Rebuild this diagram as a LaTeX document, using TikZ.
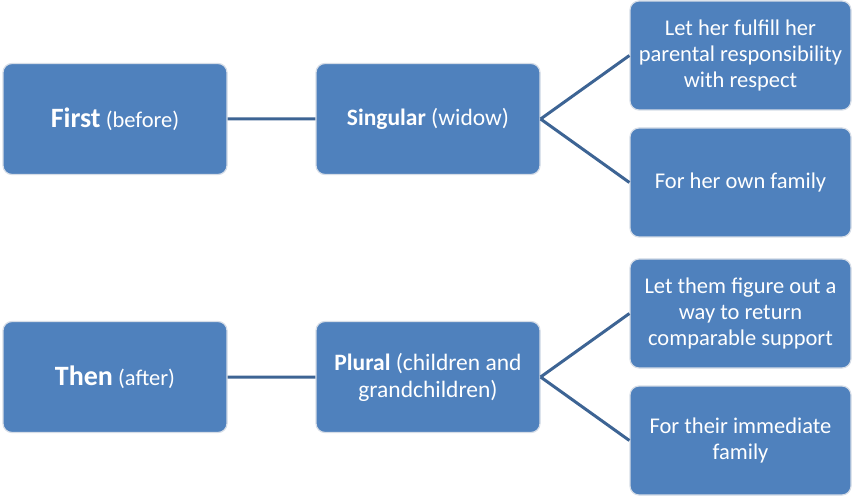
\documentclass[tikz,border=0pt]{standalone}
\usepackage{fontspec}
\setmainfont{Carlito}
\usepackage{tikz}
\usetikzlibrary{trees}
\usepackage{xcolor}
\definecolor{azul}{HTML}{4F81BD}
\definecolor{azulescuro}{HTML}{3D6494}
\definecolor{borda}{HTML}{D6DDE7}
\newcommand{\grande}[1]{{\fontsize{28}{30}\selectfont\bfseries #1}}

\begin{document}
\begin{tikzpicture}[x=1pt, y=1pt,
    bloco/.style={rectangle, rounded corners=9pt, fill=azul, draw=borda,
      line width=1.2pt, text=white, align=center, inner sep=2pt,
      font=\fontsize{22.5}{26}\selectfont,
      minimum width=224pt, minimum height=111pt},
    meio/.style={bloco, font=\fontsize{23.5}{27}\selectfont},
    folha/.style={bloco, minimum width=221pt, minimum height=109pt},
    grow'=right,
    level 1/.style={level distance=313pt},
    level 2/.style={level distance=312.5pt, sibling distance=127pt},
    edge from parent/.style={draw=azulescuro, line width=3pt},
    edge from parent path={(\tikzparentnode.east) -- (\tikzchildnode.west)}]
        \useasboundingbox (0,0) rectangle (853,498);

        % Primeira arvore
        \node[bloco] (first) at (115,379) {\grande{First} (before)}
          child {
            node[meio] (singular) {\textbf{Singular} (widow)}
            child {node[folha] (respeito) {Let her fulfill her\\parental responsibility\\with respect}}
            child {node[folha] (familia) {For her own family}}
          };

        % Segunda arvore
        \node[bloco] (then) at (115,121) {\grande{Then} (after)}
          child {
            node[meio] (plural) {\textbf{Plural} (children and\\grandchildren)}
            child {node[folha] (retorno) {Let them figure out a\\way to return\\comparable support}}
            child {node[folha] (imediata) {For their immediate\\family}}
          };
    \end{tikzpicture}
\end{document}
